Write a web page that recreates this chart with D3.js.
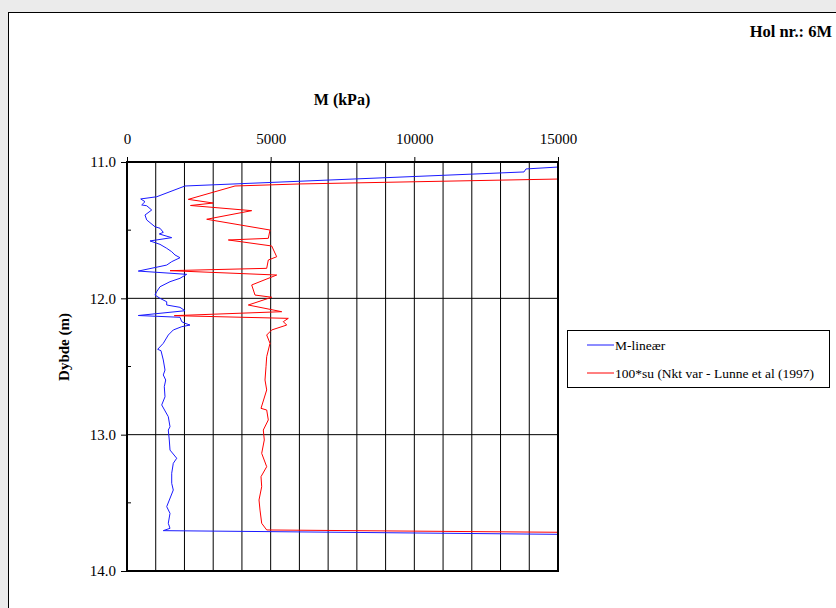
<!DOCTYPE html>
<html><head><meta charset="utf-8">
<script src="https://cdn.jsdelivr.net/npm/d3@7/dist/d3.min.js"></script>
<style>
html,body{margin:0;padding:0;background:#ebebeb;}
svg{display:block;}
text{font-family:"Liberation Serif","Times New Roman",serif;}
</style></head>
<body>
<svg id="c" width="836" height="608"></svg>
<script>
// ---- data ----
const xTicks = [0, 5000, 10000, 15000];
const yTicks = [11.0, 12.0, 13.0, 14.0];
const yMinor = [11.5, 12.5, 13.5];
const xGrid = [1000,2000,3000,4000,5000,6000,7000,8000,9000,10000,11000,12000,13000,14000];
const yGrid = [12.0, 13.0];
const seriesNames = ["M-lineær", "100*su (Nkt var - Lunne et al (1997)"];

// M-lineær: [depth (m), M (kPa)]
const blueDepth = [11.037,11.051,11.073,11.176,11.255,11.271,11.291,11.315,11.321,11.352,11.389,11.425,11.475,11.486,11.516,11.528,11.555,11.579,11.604,11.633,11.658,11.682,11.702,11.731,11.756,11.800,11.824,11.853,11.878,11.915,11.951,11.976,12.000,12.025,12.049,12.066,12.091,12.126,12.139,12.171,12.183,12.196,12.208,12.232,12.269,12.330,12.374,12.384,12.452,12.526,12.562,12.599,12.648,12.722,12.782,12.868,12.942,12.966,13.039,13.113,13.173,13.210,13.283,13.357,13.406,13.528,13.577,13.650,13.687,13.704,13.731];
const blueM = [15000,13886,13817,2019,1034,477,626,512,686,860,626,686,974,1149,1263,1124,1556,800,1149,1382,1556,1671,1845,1556,1382,393,2078,1845,1497,1149,1034,974,1149,1382,1382,1845,2019,393,1845,1904,2019,2193,1904,1611,1437,1263,1068,1183,1263,1323,1263,1347,1298,1323,1208,1437,1497,1437,1472,1497,1730,1611,1556,1556,1611,1382,1497,1437,1497,1263,15000];

// 100*su: [depth (m), kPa]
const redDepth = [11.125,11.161,11.176,11.274,11.301,11.319,11.357,11.420,11.499,11.560,11.572,11.616,11.695,11.719,11.780,11.797,11.829,11.902,11.976,11.992,12.049,12.098,12.127,12.147,12.171,12.196,12.232,12.269,12.330,12.428,12.502,12.599,12.672,12.807,12.819,12.892,12.966,13.039,13.137,13.235,13.308,13.382,13.479,13.553,13.650,13.699,13.716];
const redM = [15000,6021,3759,2133,3003,2210,4340,2774,4977,4918,3526,5036,5210,4918,4862,1497,5210,4340,4455,5036,4222,5384,1646,5614,5440,5558,5036,4862,4977,4862,4838,4803,4862,4664,4862,4918,4744,4778,4688,4862,4664,4688,4594,4629,4688,4862,15000];

// ---- drawing ----
const svg = d3.select("#c");
const L = 127, R = 558, T = 162, B = 571;
const x = d3.scaleLinear().domain([0, 15000]).range([L, R]);
const y = d3.scaleLinear().domain([11, 14]).range([T, B]);

// panel
svg.append("rect").attr("x", 8.5).attr("y", 12.5).attr("width", 840).attr("height", 620)
  .attr("fill", "#fff").attr("stroke", "#000").attr("stroke-width", 1);

svg.append("text").attr("x", 832).attr("y", 37).attr("text-anchor", "end")
  .attr("font-weight", "bold").attr("font-size", 16.5).text("Hol nr.: 6M");

// grid
svg.append("g").selectAll("line").data(xGrid).join("line")
  .attr("x1", d => x(d)).attr("x2", d => x(d)).attr("y1", T).attr("y2", B)
  .attr("stroke", "#000").attr("stroke-width", 1);
svg.append("g").selectAll("line").data(yGrid).join("line")
  .attr("x1", L).attr("x2", R).attr("y1", d => y(d)).attr("y2", d => y(d))
  .attr("stroke", "#000").attr("stroke-width", 1);

// clip
svg.append("clipPath").attr("id", "clip").append("rect")
  .attr("x", L).attr("y", T).attr("width", R - L).attr("height", B - T);

const line = d3.line().x(d => x(d[1])).y(d => y(d[0]));
const blue = blueDepth.map((d, i) => [d, blueM[i]]);
const red = redDepth.map((d, i) => [d, redM[i]]);
const g = svg.append("g").attr("clip-path", "url(#clip)");
g.append("path").datum(blue).attr("d", line).attr("fill", "none").attr("stroke", "#1a1aff").attr("stroke-width", 1);
g.append("path").datum(red).attr("d", line).attr("fill", "none").attr("stroke", "#ff0000").attr("stroke-width", 1);

// frame
svg.append("rect").attr("x", L).attr("y", T).attr("width", R - L).attr("height", B - T)
  .attr("fill", "none").attr("stroke", "#000").attr("stroke-width", 2);

// top axis
const xa = svg.append("g").attr("transform", `translate(0,${T})`)
  .call(d3.axisTop(x).tickValues(xTicks).tickSize(5).tickPadding(13).tickFormat(d3.format("d")));
xa.select(".domain").remove();
xa.selectAll("line").attr("stroke", "#000");
xa.selectAll("text").attr("font-size", 15).attr("font-family", "Liberation Serif").attr("fill", "#000");

// left axis
const ya = svg.append("g").attr("transform", `translate(${L},0)`)
  .call(d3.axisLeft(y).tickValues(yTicks).tickSize(6).tickPadding(5).tickFormat(d3.format(".1f")));
ya.select(".domain").remove();
ya.selectAll("line").attr("stroke", "#000");
ya.selectAll("text").attr("font-size", 15).attr("font-family", "Liberation Serif").attr("fill", "#000");
svg.append("g").selectAll("line").data(yMinor).join("line")
  .attr("x1", L).attr("x2", L + 4).attr("y1", d => y(d)).attr("y2", d => y(d))
  .attr("stroke", "#000");

// titles
svg.append("text").attr("x", 342).attr("y", 105).attr("text-anchor", "middle")
  .attr("font-weight", "bold").attr("font-size", 16).text("M (kPa)");
svg.append("text").attr("transform", "translate(69,347) rotate(-90)").attr("text-anchor", "middle")
  .attr("font-weight", "bold").attr("font-size", 15).text("Dybde (m)");

// legend
const lg = svg.append("g");
lg.append("rect").attr("x", 567.5).attr("y", 330.5).attr("width", 262).attr("height", 57)
  .attr("fill", "#fff").attr("stroke", "#000");
const colors = ["#1a1aff", "#ff0000"];
seriesNames.forEach((n, i) => {
  const yy = 345 + i * 28;
  lg.append("line").attr("x1", 587).attr("x2", 614).attr("y1", yy).attr("y2", yy)
    .attr("stroke", colors[i]);
  lg.append("text").attr("x", 615).attr("y", yy + 4.5).attr("font-size", 13.5).text(n);
});
</script>
</body></html>
